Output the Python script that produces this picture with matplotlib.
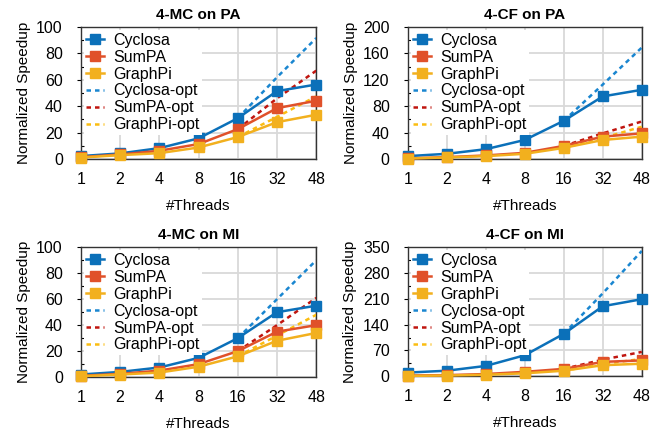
import matplotlib
matplotlib.use('Agg')
import matplotlib.pyplot as plt
from matplotlib.ticker import MultipleLocator

plt.rcParams['font.family'] = ['Liberation Sans', 'DejaVu Sans']

threads = ['1', '2', '4', '8', '16', '32', '48']

# 4-MC on PA
mc_pa_cyc = [2.3, 4.3, 8.3, 15.7, 31, 51.5, 56.5]
mc_pa_sum = [1.5, 3.5, 6.3, 11.4, 22.7, 38.6, 44.2]
mc_pa_gpi = [1.2, 3, 4.5, 8.8, 16.7, 28, 33.6]
mc_pa_cyc_opt = [2.3, 4.3, 8.3, 15.7, 31, 62, 91.7]
mc_pa_sum_opt = [1.5, 3.5, 6.3, 11.4, 22.7, 46, 67]
mc_pa_gpi_opt = [1.2, 3, 4.5, 8.8, 16.7, 32, 47.5]

# 4-CF on PA
cf_pa_cyc = [4.5, 8, 15, 29, 58, 95, 105]
cf_pa_sum = [1, 3, 5.5, 9.5, 20, 34, 39]
cf_pa_gpi = [0.8, 2.5, 4.5, 8, 17, 29, 34]
cf_pa_cyc_opt = [4.5, 8, 15, 29, 58, 113, 169]
cf_pa_sum_opt = [1, 3, 5.5, 9.5, 20, 39, 57]
cf_pa_gpi_opt = [0.8, 2.5, 4.5, 8, 17, 32, 49]

# 4-MC on MI
mc_mi_cyc = [2, 4, 7.4, 14.8, 30, 50, 55]
mc_mi_sum = [1, 2.5, 5, 10, 20, 35, 40]
mc_mi_gpi = [0.7, 2, 3.5, 8, 16, 28, 34]
mc_mi_cyc_opt = [2, 4, 7.4, 14.8, 30, 60, 90]
mc_mi_sum_opt = [1, 2.5, 5, 10, 20, 40, 61]
mc_mi_gpi_opt = [0.7, 2, 3.5, 8, 16, 32, 48]

# 4-CF on MI
cf_mi_cyc = [10, 15, 28, 57, 115, 190, 209]
cf_mi_sum = [2, 3, 6, 12, 20, 39, 43]
cf_mi_gpi = [1, 2, 4, 8, 15, 30, 34]
cf_mi_cyc_opt = [10, 15, 28, 57, 115, 225, 340]
cf_mi_sum_opt = [2, 3, 6, 12, 20, 45, 66]
cf_mi_gpi_opt = [1, 2, 4, 8, 15, 33, 47]

panels = [
    ('4-MC on PA', 100, 20, [mc_pa_cyc, mc_pa_sum, mc_pa_gpi], [mc_pa_cyc_opt, mc_pa_sum_opt, mc_pa_gpi_opt]),
    ('4-CF on PA', 200, 40, [cf_pa_cyc, cf_pa_sum, cf_pa_gpi], [cf_pa_cyc_opt, cf_pa_sum_opt, cf_pa_gpi_opt]),
    ('4-MC on MI', 100, 20, [mc_mi_cyc, mc_mi_sum, mc_mi_gpi], [mc_mi_cyc_opt, mc_mi_sum_opt, mc_mi_gpi_opt]),
    ('4-CF on MI', 350, 70, [cf_mi_cyc, cf_mi_sum, cf_mi_gpi], [cf_mi_cyc_opt, cf_mi_sum_opt, cf_mi_gpi_opt]),
]

names = ['Cyclosa', 'SumPA', 'GraphPi']
solid_colors = ['#0b70b9', '#e0512a', '#f2b01e']
opt_colors = ['#1a86d0', '#c0150f', '#fbbd12']

boxes = [
    [0.122, 0.630, 0.355, 0.307],
    [0.615, 0.630, 0.353, 0.307],
    [0.122, 0.123, 0.355, 0.302],
    [0.615, 0.125, 0.353, 0.300],
]

fig = plt.figure(figsize=(6.63, 4.30), dpi=100)
x = list(range(len(threads)))

for box, (title, ymax, step, solid, opt) in zip(boxes, panels):
    ax = fig.add_axes(box)
    for vals, c, n in zip(solid, solid_colors, names):
        ax.plot(x, vals, '-s', color=c, lw=1.8, ms=6.5, label=n, clip_on=False, zorder=4)
    for vals, c, n in zip(opt, opt_colors, names):
        ax.plot(x[4:], vals[4:], '--', color=c, lw=1.8, dashes=(1.8, 1.6), label=n + '-opt', zorder=3)
    ax.set_xlim(0, 6)
    ax.set_ylim(0, ymax)
    ax.set_xticks(x)
    ax.set_xticklabels(threads)
    ax.yaxis.set_major_locator(MultipleLocator(step))
    ax.yaxis.set_minor_locator(MultipleLocator(step / 2))
    ax.grid(True, which='major', color='#d9d9d9', lw=1.3)
    ax.set_axisbelow(True)
    ax.tick_params(axis='x', which='major', length=0, labelsize=11.5, pad=9)
    ax.tick_params(axis='y', which='major', length=3, direction='out', width=0.8,
                   labelsize=11.5, pad=10)
    ax.tick_params(axis='y', which='minor', length=2.5, direction='in', width=0.8)
    for s in ax.spines.values():
        s.set_color('#333333')
        s.set_linewidth(1)
    ax.set_title(title, fontsize=11, fontweight='bold', pad=6)
    ax.set_xlabel('#Threads', fontsize=11, labelpad=9)
    ax.set_ylabel('Normalized Speedup', fontsize=11, labelpad=4)
    leg = ax.legend(loc='upper left', frameon=True, fontsize=11.5, handlelength=1.1,
                    handletextpad=0.6, labelspacing=0.12, borderpad=0.15, borderaxespad=0.2,
                    markerscale=1.1)
    leg.get_frame().set_edgecolor('none')
    leg.get_frame().set_facecolor('white')
    leg.get_frame().set_alpha(1)
    leg.get_frame().set_boxstyle('square', pad=0)

fig.savefig('out.png', dpi=100)
